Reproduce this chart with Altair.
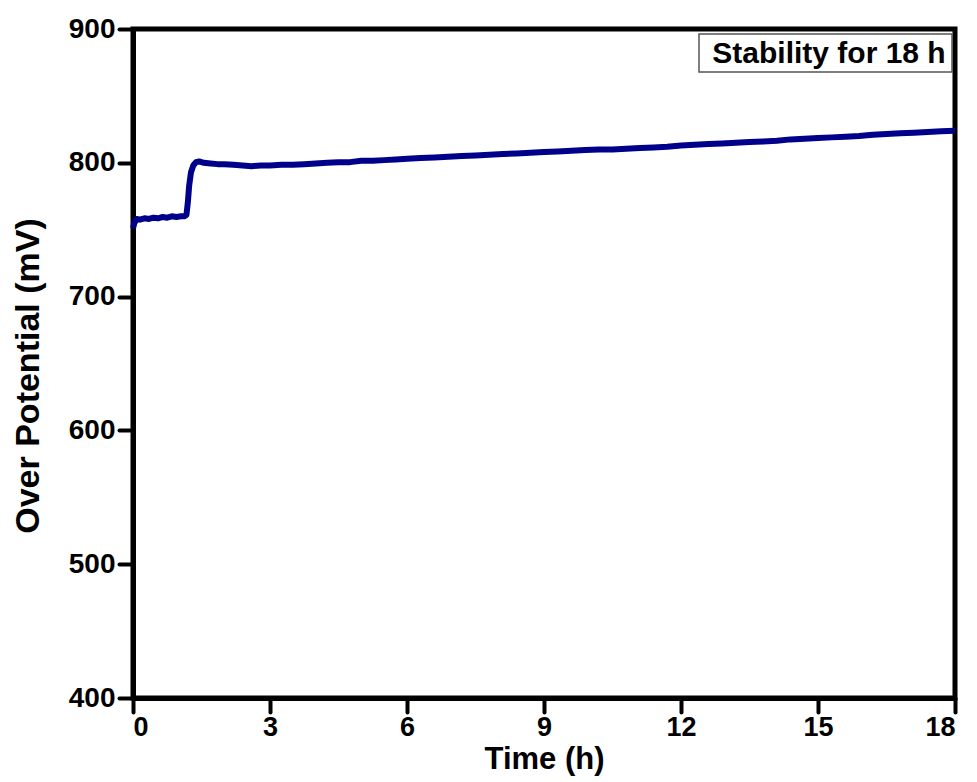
import altair as alt
import pandas as pd

# Data
time_h = [0.0, 0.03, 0.08, 0.15, 0.25, 0.35, 0.45, 0.55, 0.65, 0.75, 0.85, 0.95, 1.05, 1.12,
          1.17, 1.2, 1.23, 1.27, 1.32, 1.38, 1.45, 1.55, 1.7, 1.85, 2.0, 2.2, 2.4, 2.6,
          2.8, 3.0, 3.25, 3.5, 3.75, 4.0, 4.25, 4.5, 4.75, 5.0, 5.25, 5.5, 5.75, 6.0,
          6.3, 6.6, 6.9, 7.2, 7.5, 7.8, 8.1, 8.4, 8.7, 9.0, 9.3, 9.6, 9.9, 10.2, 10.5,
          10.8, 11.1, 11.4, 11.7, 12.0, 12.3, 12.6, 12.9, 13.2, 13.5, 13.8, 14.1, 14.4,
          14.7, 15.0, 15.3, 15.6, 15.9, 16.2, 16.5, 16.8, 17.1, 17.4, 17.7, 18.0]
potential_mv = [751, 755, 758, 757.5, 758.5, 758, 759, 758.5, 759.5, 759, 760, 759.5, 760, 760,
                761, 770, 783, 793, 798, 800.5, 801, 800, 799.5, 799, 799, 798.5, 798, 797.5,
                798, 798, 798.5, 798.5, 799, 799.5, 800, 800.5, 800.5, 801.5, 801.5, 802, 802.5, 803,
                803.5, 804, 804.5, 805, 805.5, 806, 806.5, 807, 807.5, 808, 808.5, 809, 809.5, 810, 810,
                810.5, 811, 811.5, 812, 813, 813.5, 814, 814.5, 815, 815.5, 816, 816.5, 817.5,
                818, 818.5, 819, 819.5, 820, 821, 821.5, 822, 822.5, 823, 823.5, 824]

x_ticks = [0, 3, 6, 9, 12, 15, 18]
y_ticks = [400, 500, 600, 700, 800, 900]
annotation = "Stability for 18 h"

df = pd.DataFrame({"t": time_h, "v": potential_mv})

FONT = "Liberation Sans"
W, H = 822, 669

line = alt.Chart(df).mark_line(color="#00008B", strokeWidth=6, strokeJoin="round").encode(
    x=alt.X("t:Q", scale=alt.Scale(domain=[0, 18], nice=False),
            axis=alt.Axis(values=x_ticks, title="Time (h)", titleX=W / 2, titleY=46,
                          titleFontSize=31, labelFontSize=27, labelPadding=2)),
    y=alt.Y("v:Q", scale=alt.Scale(domain=[400, 900], nice=False),
            axis=alt.Axis(values=y_ticks, title="Over Potential (mV)", titleX=-88, titleY=H / 2 + 12,
                          titleFontSize=34)),
)

box = alt.Chart(pd.DataFrame({"label": [annotation]})).mark_rect(
    fill="white", stroke="#555555", strokeWidth=1.5
).encode(x=alt.value(566), x2=alt.value(819), y=alt.value(5), y2=alt.value(43))

label = alt.Chart(pd.DataFrame({"label": [annotation]})).mark_text(
    font=FONT, fontWeight="bold", fontSize=30, baseline="middle", align="center", color="black"
).encode(text="label:N", x=alt.value(696), y=alt.value(25))

chart = (line + box + label).properties(
    width=W, height=H,
    autosize=alt.AutoSizeParams(type="none"),
    padding={"left": 125, "top": 21, "right": 14, "bottom": 82},
    background="white",
).configure_view(
    stroke="black", strokeWidth=5
).configure_axis(
    domainColor="black", domainWidth=5,
    tickColor="black", tickWidth=4, tickSize=14, tickCap="round",
    labelFont=FONT, labelFontWeight="bold", labelFontSize=28, labelColor="black",
    titleFont=FONT, titleFontWeight="bold", titleFontSize=32, titleColor="black",
    grid=False, labelPadding=4,
)

chart.save("out.html", embed_options={"renderer": "svg", "actions": False})
